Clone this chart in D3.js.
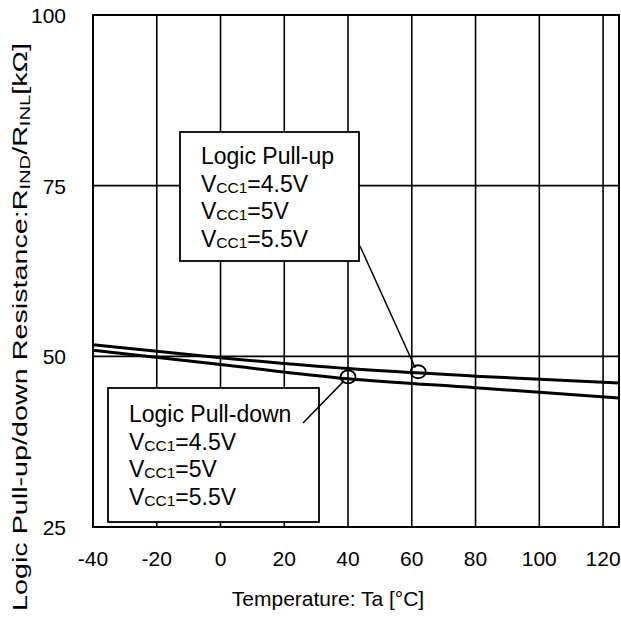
<!DOCTYPE html>
<html><head><meta charset="utf-8">
<script src="https://cdn.jsdelivr.net/npm/d3@7"></script>
<style>body{margin:0;background:#fff}svg{display:block}text{font-family:"Liberation Sans",Arial,sans-serif;fill:#000}</style>
</head><body>
<svg id="c" width="621" height="637"></svg>
<script>
const temps = [-40, 0, 40, 80, 125];
const pullUp = [51.7, 49.8, 48.2, 47.1, 46.1];
const pullDown = [50.9, 48.8, 46.7, 45.4, 43.9];
const xTicks = [-40, -20, 0, 20, 40, 60, 80, 100, 120];
const yTicks = [25, 50, 75, 100];
const vccLabels = ["4.5V", "5V", "5.5V"];

const svg = d3.select("#c");
const x = d3.scaleLinear().domain([-40, 125]).range([93, 619]);
const y = d3.scaleLinear().domain([25, 100]).range([527, 15]);

// grid
svg.append("g").selectAll("line").data(xTicks.slice(1)).join("line")
  .attr("x1", d => x(d)).attr("x2", d => x(d)).attr("y1", y(100)).attr("y2", y(25))
  .attr("stroke", "#000").attr("stroke-width", 1.6);
svg.append("g").selectAll("line").data([50, 75]).join("line")
  .attr("y1", d => y(d)).attr("y2", d => y(d)).attr("x1", x(-40)).attr("x2", x(125))
  .attr("stroke", "#000").attr("stroke-width", 1.6);
svg.append("rect").attr("x", x(-40)).attr("y", y(100)).attr("width", x(125) - x(-40)).attr("height", y(25) - y(100))
  .attr("fill", "none").attr("stroke", "#000").attr("stroke-width", 2);

// tick labels
svg.append("g").selectAll("text").data(xTicks).join("text")
  .attr("x", d => x(d)).attr("y", 566).attr("text-anchor", "middle").attr("font-size", 21).text(d => d);
svg.append("g").selectAll("text").data(yTicks).join("text")
  .attr("x", 66).attr("y", d => y(d) + 8).attr("text-anchor", "end").attr("font-size", 21).text(d => d);

// curves
const line = d3.line().x(d => x(d[0])).y(d => y(d[1])).curve(d3.curveMonotoneX);
[pullUp, pullDown].forEach(s => {
  svg.append("path").attr("d", line(temps.map((t, i) => [t, s[i]])))
    .attr("fill", "none").attr("stroke", "#000").attr("stroke-width", 3);
});

// annotation boxes
function box(x0, y0, w, h, title, tx, ty) {
  svg.append("rect").attr("x", x0).attr("y", y0).attr("width", w).attr("height", h)
    .attr("fill", "#fff").attr("stroke", "#000").attr("stroke-width", 1.8);
  svg.append("text").attr("x", tx).attr("y", ty).attr("font-size", 23).text(title);
  vccLabels.forEach((v, i) => {
    const t = svg.append("text").attr("x", tx).attr("y", ty + 27.5 * (i + 1)).attr("font-size", 23);
    t.append("tspan").text("V");
    t.append("tspan").attr("font-size", 15.5).attr("dy", 1).text("CC1");
    t.append("tspan").attr("dy", -1).text("=" + v);
  });
}
box(180, 132, 179, 129, "Logic Pull-up", 201, 164);
box(108, 388, 211, 134, "Logic Pull-down", 129, 422);

// markers and leaders
const upT = 62, dnT = 40;
const interp = (s, t) => d3.scaleLinear().domain(temps).range(s)(t);
svg.append("ellipse").attr("cx", x(upT)).attr("cy", y(interp(pullUp, upT)) - 1).attr("rx", 7.5).attr("ry", 6.5)
  .attr("fill", "none").attr("stroke", "#000").attr("stroke-width", 1.8);
svg.append("ellipse").attr("cx", x(dnT)).attr("cy", y(interp(pullDown, dnT)) - 2).attr("rx", 7.5).attr("ry", 6.5)
  .attr("fill", "none").attr("stroke", "#000").attr("stroke-width", 1.8);
svg.append("line").attr("x1", 360).attr("y1", 246).attr("x2", x(upT) - 3).attr("y2", y(interp(pullUp, upT)) - 5)
  .attr("stroke", "#000").attr("stroke-width", 1.5);
svg.append("line").attr("x1", 303).attr("y1", 423).attr("x2", x(dnT) - 4).attr("y2", y(interp(pullDown, dnT)) + 2)
  .attr("stroke", "#000").attr("stroke-width", 1.5);

// axis titles
svg.append("text").attr("x", 328).attr("y", 606).attr("text-anchor", "middle").attr("font-size", 21)
  .text("Temperature: Ta [°C]");
const yl = svg.append("text").attr("transform", "translate(27,327) rotate(-90)").attr("text-anchor", "middle")
  .attr("font-size", 20).attr("textLength", 568).attr("lengthAdjust", "spacingAndGlyphs");
yl.append("tspan").text("Logic Pull-up/down Resistance:R");
yl.append("tspan").attr("font-size", 14).attr("dy", 3).text("IND");
yl.append("tspan").attr("dy", -3).text("/R");
yl.append("tspan").attr("font-size", 14).attr("dy", 3).text("INL");
yl.append("tspan").attr("dy", -3).text("[kΩ]");
</script>
</body></html>
